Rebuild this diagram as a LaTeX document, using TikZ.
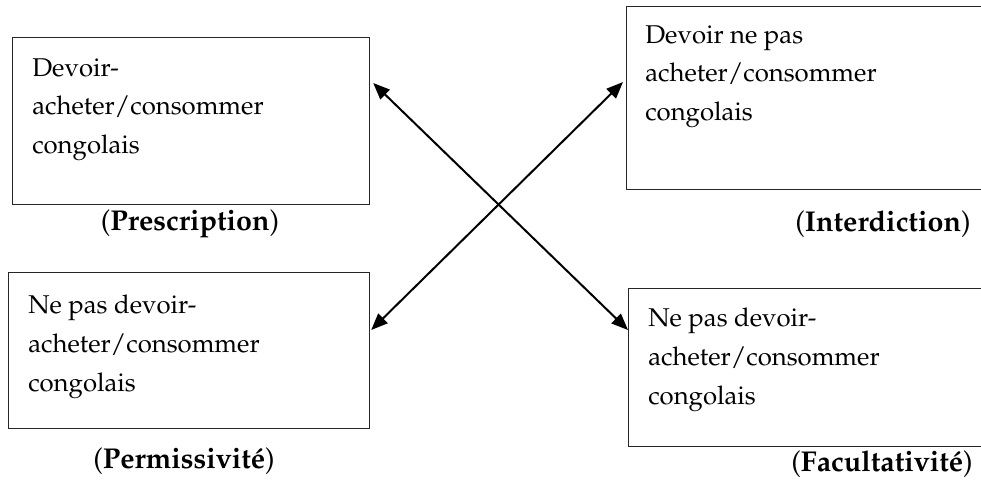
\documentclass[tikz,border=0pt]{standalone}
\usepackage[T1]{fontenc}
\renewcommand{\rmdefault}{ppl}
\usetikzlibrary{calc,arrows.meta}
\def\px{0.75pt}

\begin{document}
\begin{tikzpicture}[x=0.75pt, y=-0.75pt,
		box/.style={draw=black!85, line width=0.9pt, rectangle, inner sep=0pt, anchor=north west},
		txt/.style={inner sep=0pt, anchor=north west, align=left, font=\fontsize{19.3}{29}\selectfont},
		lbl/.style={inner sep=0pt, font=\fontsize{21.5}{29}\selectfont},
		both/.style={{Triangle[length=12.5pt,width=10pt]}-{Triangle[length=12.5pt,width=10pt]}, line width=1.5pt}]
		%%%%% START %%%%%
		
		\useasboundingbox (0, 0) rectangle (981, 480);
		\clip (0, 0) rectangle (981, 480);
		
		% boxes
		\node[box, minimum width=357*\px, minimum height=167*\px] (pre) at (12, 37) {};
		\node[box, minimum width=364*\px, minimum height=183*\px] (int) at (626, 6) {};
		\node[box, minimum width=361*\px, minimum height=156*\px] (per) at (8, 272) {};
		\node[box, minimum width=362*\px, minimum height=158*\px] (fac) at (628, 288) {};
		
		% texts
		\node[txt] (pretxt) at (32, 58) {Devoir-\\acheter/consommer\\congolais};
		\node[txt] (inttxt) at (645, 25) {Devoir ne pas\\acheter/consommer\\congolais};
		\node[txt] (pertxt) at (28, 295) {Ne pas devoir-\\acheter/consommer\\congolais};
		\node[txt] (factxt) at (648, 308) {Ne pas devoir-\\acheter/consommer\\congolais};
		
		% labels
		\node[lbl] (prelbl) at (190, 224) {(\textbf{Prescription})};
		\node[lbl] (intlbl) at (883, 224) {(\textbf{Interdiction})};
		\node[lbl] (perlbl) at (184, 461) {(\textbf{Permissivit\'e})};
		\node[lbl] (faclbl) at (882, 464) {(\textbf{Facultativit\'e})};
		
		% arrows
		\coordinate (a1) at ($(pre.north east)+(3, 46)$);
		\coordinate (a2) at ($(fac.north west)+(0, 42)$);
		\coordinate (b1) at ($(per.north east)+(1, 58)$);
		\coordinate (b2) at ($(int.north west)+(-3, 76)$);
		\draw[both] (a1) -- (a2);
		\draw[both] (b1) -- (b2);
		
		%%%%% END %%%%%
\end{tikzpicture}
\end{document}
